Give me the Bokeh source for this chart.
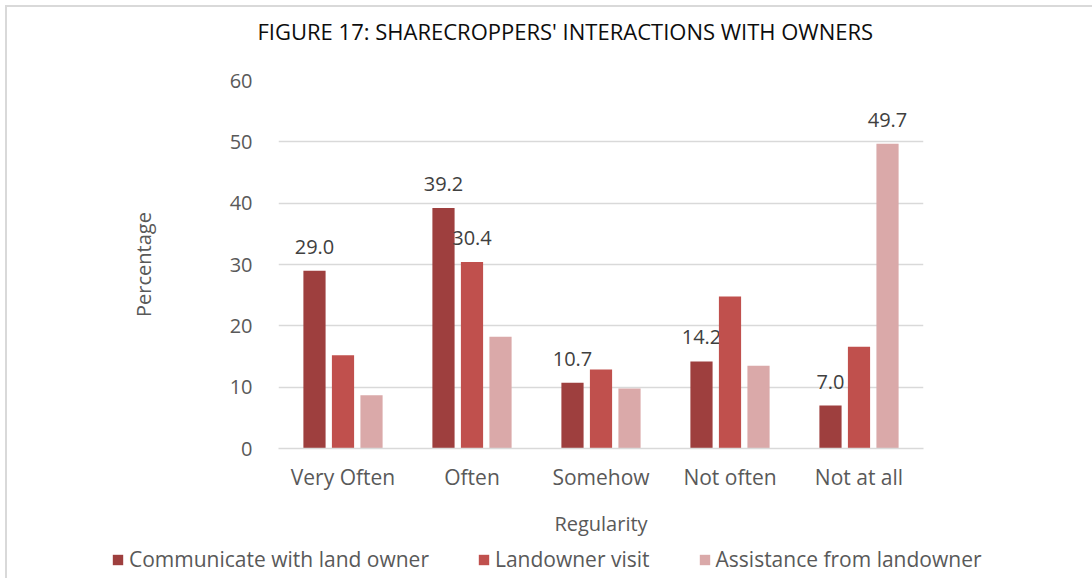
from bokeh.plotting import figure
from bokeh.layouts import column
from bokeh.models import FactorRange, Range1d, ColumnDataSource, FixedTicker, Legend, LegendItem
from bokeh.transform import dodge
from bokeh.core.properties import value
from bokeh.embed import file_html
from bokeh.resources import INLINE

# ---- data ----
categories = ["Very Often", "Often", "Somehow", "Not often", "Not at all"]
series_names = ["Communicate with land owner", "Landowner visit", "Assistance from landowner"]
communicate = [29.0, 39.2, 10.7, 14.2, 7.0]
visit = [15.2, 30.4, 12.9, 24.8, 16.6]
assistance = [8.7, 18.2, 9.8, 13.5, 49.7]
communicate_labels = ["29.0", "39.2", "10.7", "14.2", "7.0"]
visit_labels = ["", "30.4", "", "", ""]
assistance_labels = ["", "", "", "", "49.7"]
y_ticks = [0, 10, 20, 30, 40, 50, 60]
title_text = "FIGURE 17: SHARECROPPERS' INTERACTIONS WITH OWNERS"

colors = ["#9E3F3E", "#C0504D", "#DAA9A9"]
FONT = "Open Sans"

source = ColumnDataSource(dict(
    cat=categories,
    s1=communicate, s2=visit, s3=assistance,
    l1=communicate_labels, l2=visit_labels, l3=assistance_labels,
))

W = 1085
H_MAIN, H_LEG = 535, 36
p = figure(
    x_range=FactorRange(*categories, range_padding=0),
    y_range=Range1d(0, 60),
    width=W, height=H_MAIN,
    output_backend="svg", toolbar_location=None,
    title=title_text + "\n ",
    min_border_left=271, min_border_right=169,
    min_border_top=73, min_border_bottom=H_MAIN - 441,
)
p.frame_align = False
p.outline_line_color = None
p.background_fill_color = "white"
p.border_fill_color = "white"

p.title.text_font = FONT
p.title.text_font_size = "22px"
p.title.text_font_style = "normal"
p.title.text_color = "#0d0d0d"
p.title.align = "left"
p.title.offset = -21
p.title.standoff = 10

step = 0.221
bw = 0.172
cols = ["s1", "s2", "s3"]
labs = ["l1", "l2", "l3"]
offs = [-step, 0.0, step]
for c, l, o, col in zip(cols, labs, offs, colors):
    p.vbar(x=dodge("cat", o, range=p.x_range), top=c, width=bw, source=source,
           fill_color=col, line_color=None)
    p.text(x=dodge("cat", o, range=p.x_range), y=c, text=l, source=source,
           text_font=value(FONT), text_font_size="20px", text_color="#404040",
           text_align="center", text_baseline="alphabetic", y_offset=-24)

p.yaxis.ticker = FixedTicker(ticks=y_ticks)
p.ygrid.grid_line_color = "#d9d9d9"
p.ygrid.grid_line_width = 1.5
p.xgrid.grid_line_color = None

for ax in (p.xaxis[0], p.yaxis[0]):
    ax.major_label_text_font = FONT
    ax.major_label_text_font_size = "20px"
    ax.major_label_text_color = "#595959"
    ax.axis_label_text_font = FONT
    ax.axis_label_text_font_size = "20px"
    ax.axis_label_text_font_style = "normal"
    ax.axis_label_text_color = "#595959"
    ax.major_tick_line_color = None
    ax.minor_tick_line_color = None

p.xaxis.major_label_text_font_size = "21px"
p.yaxis.axis_line_color = None
p.xaxis.axis_line_color = "#d9d9d9"
p.xaxis.axis_line_width = 1.5
p.yaxis.axis_label = "Percentage"
p.xaxis.axis_label = "Regularity"
p.yaxis.major_label_standoff = 20
p.yaxis.axis_label_standoff = 70
p.xaxis.major_label_standoff = 8
p.xaxis.axis_label_standoff = 16

# ---- legend strip (separate figure so the legend is not clipped) ----
pl = figure(width=W, height=H_LEG, output_backend="svg", toolbar_location=None,
            x_range=FactorRange(*categories, range_padding=0), y_range=Range1d(0, 60),
            x_axis_type=None, y_axis_type=None,
            min_border_left=0, min_border_right=0, min_border_top=0, min_border_bottom=0)
pl.frame_align = False
pl.outline_line_color = None
pl.grid.grid_line_color = None
pl.background_fill_color = "white"
pl.border_fill_color = "white"
items = []
for name, c, o, col in zip(series_names, cols, offs, colors):
    r = pl.vbar(x=dodge("cat", o, range=pl.x_range), top=c, width=bw, source=source,
                fill_color=col, line_color=None, visible=False)
    items.append(LegendItem(label=name, renderers=[r]))

lg = Legend(items=items)
lg.orientation = "horizontal"
lg.location = (104, 5)
lg.label_text_font = FONT
lg.label_text_font_size = "21px"
lg.label_text_color = "#595959"
lg.glyph_width = 13
lg.glyph_height = 13
lg.label_height = 20
lg.label_standoff = 5
lg.spacing = 48
lg.padding = 0
lg.margin = 0
lg.border_line_color = None
lg.background_fill_alpha = 0
lg.inactive_fill_alpha = 0
pl.add_layout(lg)

layout = column(p, pl, spacing=0)
layout.styles = {"margin-left": "5px", "margin-top": "5px",
                 "border-left": "2px solid #d9d9d9", "border-top": "2px solid #d9d9d9"}

open("out.html", "w").write(file_html(layout, INLINE))
